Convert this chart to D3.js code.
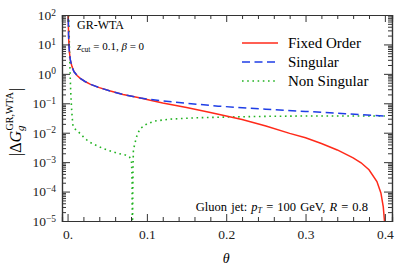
<!DOCTYPE html>
<html>
<head>
<meta charset="utf-8">
<script src="https://cdn.jsdelivr.net/npm/d3@7"></script>
<style>
  body { margin: 0; background: #fff; }
  svg { display: block; font-family: "Liberation Serif", "Times New Roman", serif; }
  .axis path { stroke: #333; stroke-width: 1.2; }
  .axis line { stroke: #333; stroke-width: 1; }
  .axis text { fill: #222; font-size: 13.5px; font-family: "Liberation Serif", serif; }
</style>
</head>
<body>
<svg class="chart"></svg>
<script>
// chart size and frame
var width = 399;
var height = 271;
var margin = {top: 15, right: 7, bottom: 50, left: 62};

// Fixed Order (red)
var foTheta = [0.0008, 0.001, 0.0013, 0.0018, 0.0025, 0.0035, 0.0055, 0.008, 0.012, 0.016, 0.022, 0.029, 0.04, 0.054, 0.07, 0.092,
               0.1, 0.12, 0.15, 0.18, 0.2, 0.22, 0.25, 0.28, 0.3, 0.32, 0.34, 0.36, 0.37, 0.38, 0.39, 0.395, 0.398, 0.3995, 0.4];
var foValue = [200, 60, 20, 9, 5, 3, 1.8, 1.2, 0.88, 0.7, 0.55, 0.44, 0.34, 0.26, 0.2, 0.15,
               0.135, 0.103, 0.072, 0.049, 0.037, 0.028, 0.017, 0.0095, 0.0067, 0.0043, 0.0026, 0.0014, 0.00095, 0.00055, 0.00022, 0.00009, 0.00003, 0.00001, 0.000001];

// Singular (blue dashed)
var sgTheta = [0.0008, 0.001, 0.0013, 0.0018, 0.0025, 0.0035, 0.0055, 0.008, 0.012, 0.016, 0.022, 0.029, 0.04, 0.054, 0.07, 0.092,
               0.12, 0.15, 0.19, 0.25, 0.3, 0.35, 0.4];
var sgValue = [200, 60, 20, 9, 5, 3, 1.8, 1.2, 0.88, 0.7, 0.55, 0.44, 0.34, 0.26, 0.2, 0.15,
               0.12, 0.1, 0.08, 0.063, 0.053, 0.044, 0.037];

// Non Singular (green dotted)
var nsTheta = [0.0015, 0.002, 0.0025, 0.003, 0.0035, 0.004, 0.005, 0.006, 0.0068, 0.01, 0.014, 0.02, 0.0265, 0.037, 0.045, 0.054, 0.063, 0.0727, 0.078,
               0.0805, 0.0812, 0.0815, 0.0818, 0.0821, 0.0825, 0.083, 0.085, 0.088, 0.092, 0.1, 0.11, 0.13, 0.16, 0.2, 0.25, 0.3, 0.35, 0.4];
var nsValue = [150, 25, 6, 1.8, 0.6, 0.25, 0.07, 0.03, 0.017, 0.013, 0.0105, 0.0072, 0.005, 0.0036, 0.0029, 0.0024, 0.002, 0.00175, 0.0015,
               0.0011, 0.0004, 0.00003, 0.000001, 0.00003, 0.0006, 0.0025, 0.0045, 0.009, 0.014, 0.02, 0.025, 0.029, 0.032, 0.034, 0.036, 0.037, 0.037, 0.037];

var xMajor = [0, 0.1, 0.2, 0.3, 0.4];
var xLabels = ["0.", "0.1", "0.2", "0.3", "0.4"];
var yExponents = [-5, -4, -3, -2, -1, 0, 1, 2];

var legendNames = ["Fixed Order", "Singular", "Non Singular"];

var w = width - margin.left - margin.right;
var h = height - margin.top - margin.bottom;

var svg = d3.select(".chart")
    .attr("width", width)
    .attr("height", height);

var chart = svg.append("g")
    .attr("transform", "translate(" + margin.left + "," + margin.top + ")");

var x = d3.scaleLinear()
    .domain([-0.007, 0.409])
    .range([0, w]);

var y = d3.scaleLog()
    .domain([1e-5, 1e2])
    .range([h, 0]);

// minor tick positions
var xMinor = d3.range(0, 0.41, 0.02).filter(function(d) {
    return xMajor.every(function(m) { return Math.abs(m - d) > 1e-6; });
});
var yMajor = yExponents.map(function(e) { return Math.pow(10, e); });
var yMinor = [];
yExponents.slice(0, -1).forEach(function(e) {
    for (var k = 2; k <= 9; k++) yMinor.push(k * Math.pow(10, e));
});

// curves
chart.append("clipPath").attr("id", "clip")
    .append("rect").attr("width", w).attr("height", h);

var line = d3.line()
    .x(function(d) { return x(d[0]); })
    .y(function(d) { return y(Math.max(d[1], 1e-7)); });

function zip(a, b) { return a.map(function(t, i) { return [t, b[i]]; }); }

var curves = chart.append("g").attr("clip-path", "url(#clip)");

curves.append("path")
    .datum(zip(nsTheta, nsValue))
    .attr("d", line)
    .attr("fill", "none")
    .attr("stroke", "#22b322")
    .attr("stroke-width", 1.6)
    .attr("stroke-dasharray", "1.6,3.6");

curves.append("path")
    .datum(zip(foTheta, foValue))
    .attr("d", line)
    .attr("fill", "none")
    .attr("stroke", "#ff2a1a")
    .attr("stroke-width", 1.5);

curves.append("path")
    .datum(zip(sgTheta, sgValue))
    .attr("d", line)
    .attr("fill", "none")
    .attr("stroke", "#1f3ee6")
    .attr("stroke-width", 1.5)
    .attr("stroke-dasharray", "8,4.5");

// axes, ticks pointing inward on all four sides
chart.append("g")
    .attr("class", "axis")
    .attr("transform", "translate(0," + h + ")")
    .call(d3.axisBottom(x).tickValues(xMajor).tickSize(-7).tickPadding(8)
        .tickFormat(function(d, i) { return xLabels[i]; }));

chart.append("g")
    .attr("class", "axis")
    .attr("transform", "translate(0," + h + ")")
    .call(d3.axisBottom(x).tickValues(xMinor).tickSize(-4).tickFormat(""));

chart.append("g")
    .attr("class", "axis")
    .call(d3.axisTop(x).tickValues(xMajor).tickSize(-7).tickFormat(""));

chart.append("g")
    .attr("class", "axis")
    .call(d3.axisTop(x).tickValues(xMinor).tickSize(-4).tickFormat(""));

var yAxisG = chart.append("g")
    .attr("class", "axis")
    .call(d3.axisLeft(y).tickValues(yMajor).tickSize(-8).tickPadding(6).tickFormat(""));

chart.append("g")
    .attr("class", "axis")
    .call(d3.axisLeft(y).tickValues(yMinor).tickSize(-4).tickFormat(""));

chart.append("g")
    .attr("class", "axis")
    .attr("transform", "translate(" + w + ",0)")
    .call(d3.axisRight(y).tickValues(yMajor).tickSize(-8).tickFormat(""));

chart.append("g")
    .attr("class", "axis")
    .attr("transform", "translate(" + w + ",0)")
    .call(d3.axisRight(y).tickValues(yMinor).tickSize(-4).tickFormat(""));

// powers of ten labels
yAxisG.selectAll(".tick text").each(function(d) {
    var e = Math.round(Math.log10(d));
    var t = d3.select(this);
    t.text("10");
    t.append("tspan")
        .attr("dy", "-0.45em")
        .attr("font-size", "9.5px")
        .text(e < 0 ? "\u2212" + (-e) : e);
});

// axis titles
svg.append("text")
    .attr("x", margin.left + x(0.2))
    .attr("y", 263)
    .attr("text-anchor", "middle")
    .attr("font-style", "italic")
    .attr("font-size", "14px")
    .text("\u03b8");

var yt = svg.append("text")
    .attr("transform", "translate(21," + (margin.top + h / 2 + 4) + ") rotate(-90)")
    .attr("text-anchor", "middle")
    .attr("font-size", "16px");
yt.append("tspan").text("|\u0394");
yt.append("tspan").attr("font-style", "italic").text("G");
yt.append("tspan").attr("font-style", "italic").attr("font-size", "11px").attr("dy", "3").text("g");
yt.append("tspan").attr("font-size", "10px").attr("dx", "-5").attr("dy", "-11").text("GR,WTA");
yt.append("tspan").attr("dx", "1").attr("dy", "8").text("|");

// annotations
svg.append("text")
    .attr("x", 77).attr("y", 29)
    .attr("font-size", "12px")
    .text("GR-WTA");

var zt = svg.append("text")
    .attr("x", 77).attr("y", 50)
    .attr("font-size", "11px");
zt.append("tspan").attr("font-style", "italic").text("z");
zt.append("tspan").attr("font-size", "7.5px").attr("dy", "2").text("cut");
zt.append("tspan").attr("dy", "-2").text(" = 0.1, ");
zt.append("tspan").attr("font-style", "italic").text("\u03b2");
zt.append("tspan").text(" = 0");

var gt = svg.append("text")
    .attr("x", 368).attr("y", 211)
    .attr("text-anchor", "end")
    .attr("font-size", "12.5px")
    .attr("word-spacing", "1px");
gt.append("tspan").text("Gluon jet: ");
gt.append("tspan").attr("font-style", "italic").text("p");
gt.append("tspan").attr("font-style", "italic").attr("font-size", "8px").attr("dy", "2").text("T");
gt.append("tspan").attr("dy", "-2").text(" = 100 GeV, ");
gt.append("tspan").attr("font-style", "italic").text("R");
gt.append("tspan").text(" = 0.8");

// legend
var legend = svg.append("g");
var legendStyles = [
    {color: "#ff2a1a", dash: null, width: 1.5},
    {color: "#1f3ee6", dash: "8,4.5", width: 1.5},
    {color: "#22b322", dash: "1.6,3.6", width: 1.6}
];
legendNames.forEach(function(name, i) {
    var ly = 43 + i * 19;
    legend.append("line")
        .attr("x1", 242).attr("x2", 278)
        .attr("y1", ly).attr("y2", ly)
        .attr("stroke", legendStyles[i].color)
        .attr("stroke-width", legendStyles[i].width)
        .attr("stroke-dasharray", legendStyles[i].dash);
    legend.append("text")
        .attr("x", 288).attr("y", ly + 5)
        .attr("font-size", "15px")
        .text(name);
});
</script>
</body>
</html>
